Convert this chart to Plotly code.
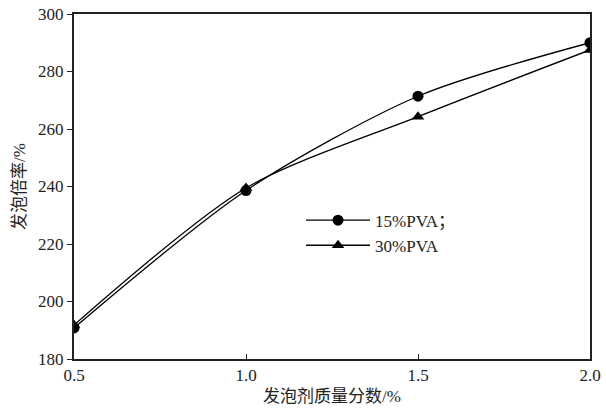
import plotly.graph_objects as go

x_vals = [0.5, 1.0, 1.5, 2.0]
pva15 = [190.8, 238.6, 271.4, 290.0]
pva30 = [191.8, 239.5, 264.3, 287.5]
series_names = ["15%PVA；", "30%PVA"]

font_fam = "Liberation Serif, Times New Roman, Noto Sans CJK SC, serif"

fig = go.Figure()
fig.add_trace(go.Scatter(
    x=x_vals, y=pva15, name=series_names[0], mode="lines+markers",
    line=dict(color="black", width=1.3, shape="spline", smoothing=0.8),
    marker=dict(symbol="circle", size=11, color="black"),
))
fig.add_trace(go.Scatter(
    x=x_vals, y=pva30, name=series_names[1], mode="lines+markers",
    line=dict(color="black", width=1.3, shape="spline", smoothing=0.8),
    marker=dict(symbol="triangle-up", size=11, color="black"),
))

fig.update_layout(
    width=606, height=409,
    margin=dict(l=74, r=16, t=14, b=50),
    paper_bgcolor="white", plot_bgcolor="white",
    font=dict(family=font_fam, size=17, color="#222"),
    showlegend=True,
    legend=dict(x=0.44, y=0.365, xanchor="left", yanchor="middle",
                bgcolor="rgba(0,0,0,0)", itemwidth=64,
                font=dict(family=font_fam, size=17), tracegroupgap=0),
    xaxis=dict(range=[0.5, 2.0], tickvals=[0.5, 1.0, 1.5, 2.0],
               ticktext=["0.5", "1.0", "1.5", "2.0"], automargin=False,
               showline=True, linecolor="#222", linewidth=2, mirror=True,
               ticks="inside", ticklen=5, tickcolor="#222",
               showgrid=False, zeroline=False,
               title=dict(text="发泡剂质量分数/%", standoff=6,
                          font=dict(family=font_fam, size=17))),
    yaxis=dict(range=[180, 300], tickvals=[180, 200, 220, 240, 260, 280, 300],
               automargin=False,
               showline=True, linecolor="#222", linewidth=2, mirror=True,
               ticks="outside", ticklen=5, tickcolor="#222",
               showgrid=False, zeroline=False,
               title=dict(text="发泡倍率/%", standoff=8,
                          font=dict(family=font_fam, size=17))),
)

fig.write_html("out.html")
